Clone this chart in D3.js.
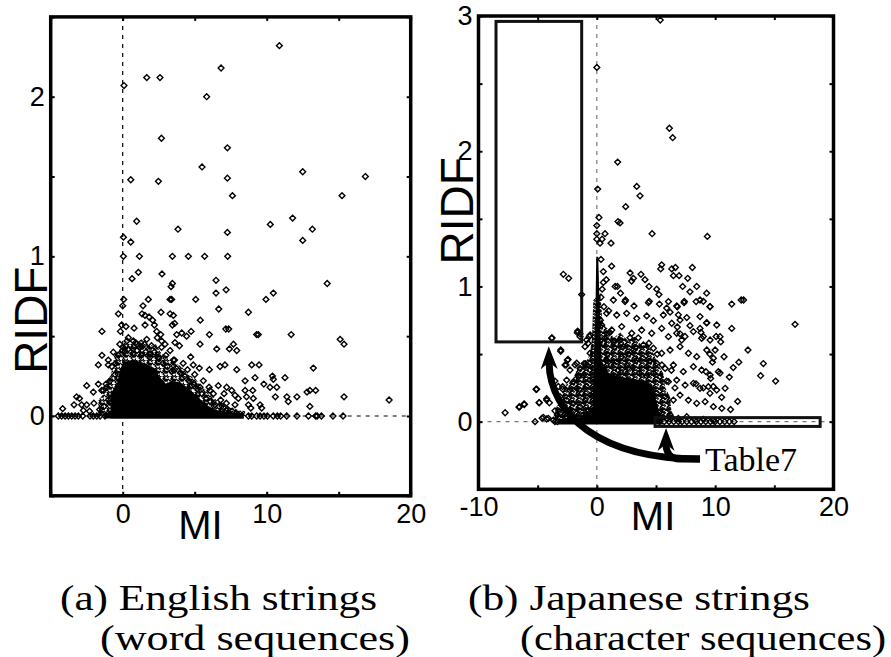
<!DOCTYPE html>
<html>
<head>
<meta charset="utf-8">
<script src="https://cdn.jsdelivr.net/npm/d3@7"></script>
<style>
  body { margin: 0; background: #fff; }
  svg { display: block; }
</style>
</head>
<body>
<svg width="891" height="657"></svg>
<script>
// ---- data (MI, RIDF) ----
const xTicksA = [-5, 0, 5, 10, 15, 20];
const xLabelsA = [0, 10, 20];
const yTicksA = [-0.5, 0, 0.5, 1, 1.5, 2, 2.5];
const yLabelsA = [0, 1, 2];

const xTicksB = [-10, -5, 0, 5, 10, 15, 20];
const xLabelsB = [-10, 0, 10, 20];
const yTicksB = [-0.5, 0, 0.5, 1, 1.5, 2, 2.5, 3];
const yLabelsB = [0, 1, 2, 3];

// saturated (solid black) areas where markers overlap completely
const coreA = [[-0.85,-0.016],[-0.85,0.14],[-0.4,0.2],[-0.15,0.3],[0.1,0.34],[0.8,0.35],[1.5,0.33],[2.2,0.3],[2.6,0.24],[3.0,0.2],[3.4,0.22],[4.0,0.21],[4.6,0.17],[5.2,0.12],[5.8,0.07],[6.4,0.04],[7.0,0.025],[8.4,0.018],[8.4,-0.016]];
const bandA = [[-1.3,-0.016],[-1.3,0.018],[8.4,0.018],[8.4,-0.016]];
// crowded but not saturated areas (drawn as a marker texture)
const denseA = [[-1.7,0],[-1.7,0.1],[-1.3,0.14],[-1.1,0.22],[-0.8,0.26],[-0.6,0.38],[-0.2,0.42],[0.2,0.47],[0.8,0.45],[1.3,0.48],[1.8,0.44],[2.3,0.45],[2.7,0.39],[3.2,0.37],[3.6,0.33],[4.1,0.31],[4.5,0.26],[5.0,0.24],[5.5,0.18],[6.0,0.15],[6.5,0.1],[7.0,0.08],[7.5,0.05],[8.5,0.03],[8.5,0]];

const coreB = [[-3.3,-0.02],[-3.3,0.02],[-1.5,0.03],[-0.35,0.1],[-0.3,0.35],[-0.12,0.8],[-0.05,1.22],[0.12,1.22],[0.25,0.8],[0.4,0.45],[1.0,0.36],[2.0,0.33],[3.0,0.32],[4.0,0.3],[4.7,0.27],[5.0,0.16],[5.3,0.06],[5.6,0.02],[5.6,-0.02]];
const denseB = [[-3.6,0],[-3.5,0.1],[-3.0,0.16],[-2.7,0.27],[-2.1,0.3],[-1.6,0.4],[-1.0,0.42],[-0.6,0.5],[-0.4,0.62],[-0.3,0.9],[0.3,0.95],[0.5,0.72],[1.0,0.68],[1.4,0.62],[2.0,0.66],[2.6,0.6],[3.2,0.63],[3.8,0.56],[4.3,0.58],[4.8,0.5],[5.2,0.42],[5.6,0.36],[5.8,0.25],[6.2,0.18],[6.3,0.08],[6.6,0.03],[6.6,0]];

const pointsA = [
  [10.88,2.32],[6.83,2.18],[1.67,2.12],[2.59,2.12],[0.09,2.07],[5.83,2.0],[2.69,1.74],[7.27,1.68],[5.51,1.56],[12.5,1.53],[16.85,1.5],[0.56,1.48],[2.48,1.47],[7.27,1.49],[7.62,1.38],[15.23,1.38],[0.97,1.22],[11.8,1.24],[10.25,1.2],[3.84,1.17],[13.17,1.17],[7.27,1.15],[0.05,1.12],[0.56,1.09],[12.5,1.1],
  [0.05,1.0],[1.16,1.0],[3.45,1.0],[4.56,1.0],[5.69,1.0],[7.29,1.0],
  [1.09,0.9],[0.65,0.86],[2.73,0.89],[3.45,0.83],[3.36,0.81],[6.48,0.85],[7.18,0.79],[6.48,0.77],[14.2,0.83],[10.46,0.77],[9.95,0.73],[5.07,0.73],[3.29,0.73],[3.4,0.73],[1.78,0.73],[0.07,0.73],[0,0.69],[1.41,0.69],[6.67,0.67],[8.73,0.65],[-0.3,0.64],[1.34,0.64],[1.55,0.63],[1.83,0.62],[2.66,0.65],[3.29,0.64],[3.52,0.63],[5.39,0.6],
  [-1.44,0.53],[-0.07,0.57],[0.23,0.56],[0.79,0.55],[1.55,0.57],[2.08,0.6],[2.2,0.57],[3.45,0.57],[3.61,0.58],[4.75,0.53],[6.02,0.51],[7.16,0.545],[7.36,0.545],[9.3,0.51],[9.42,0.51],[11.7,0.51],[15.1,0.48],[15.37,0.45],[2.36,0.53],[2.64,0.51],[4.1,0.52],[3.75,0.51],[5.37,0.45],[-0.16,0.53],[0.39,0.49],[0.74,0.47],[0.97,0.45],[1.2,0.43],[1.67,0.48],[2.4,0.49],[2.7,0.47],[2.94,0.45],[3.29,0.41],[3.63,0.46],[3.94,0.44],[4.44,0.5],[6.53,0.42],[7.41,0.42],[7.92,0.41],[7.69,0.45],
  [-0.65,0.4],[-1.44,0.38],[0,0.41],[0.02,0.43],[1.9,0.39],[2.48,0.37],[3.52,0.35],[4.72,0.37],[-1.69,0.32],[-1.0,0.32],[8.96,0.32],[9.47,0.32],[13.24,0.3],[4.9,0.32],[5.32,0.3],[6.02,0.29],[6.76,0.31],[7.1,0.32],[7.92,0.29],[8.5,0.22],[9.19,0.24],[9.8,0.2],[10.4,0.25],[10.46,0.23],[11.27,0.24],
  [-2.5,0.19],[-1.69,0.2],[-2.04,0.15],[-1.34,0.16],[-1.11,0.18],[-3.2,0.12],[-3.0,0.11],[-2.85,0.07],[-3.38,0.07],[-2.5,0.07],[-4.17,0.046],[-2.73,0.035],
  [4.8,0.19],[5.37,0.18],[6.06,0.16],[6.64,0.19],[7.04,0.14],[7.22,0.18],[7.57,0.16],[7.8,0.13],[8.03,0.11],[8.5,0.16],[8.6,0.12],[9.03,0.16],[9.07,0.11],[9.54,0.07],[9.65,0.05],[10.23,0.18],[10.7,0.18],[10.6,0.12],[11.4,0.12],[11.5,0.09],[12.1,0.12],[12.8,0.15],[13.0,0.16],[13.4,0.16],[13.0,0.06],[15.37,0.12],[18.5,0.1],[8.73,0.07],[8.9,0.05],
  [-4.47,0],[-4.24,0],[-4.0,0],[-3.77,0],[-3.54,0],[-3.31,0],[-3.08,0],[-2.78,0],[-2.27,0],[-2.04,0],[-1.8,0],[-1.57,0],[-1.23,0],[8.73,0],[8.96,0],[9.3,0],[9.54,0],[9.81,0],[10.05,0],[10.46,0],[10.74,0],[10.97,0],[11.39,0],[12.1,0],[12.9,0],[13.4,0],[13.5,0],[13.8,0],[14.6,0],[15.3,0],
  [-1.0,0.35],[-0.76,0.31],[-0.53,0.26],[-0.88,0.22],[-1.16,0.2],[-1.46,0.16],[-0.3,0.38],[0.1,0.4],[0.4,0.42],[0.7,0.39],[1.0,0.41],[1.3,0.38],[1.6,0.4],[1.9,0.37],[2.2,0.4],[2.5,0.36],[2.8,0.33],[3.1,0.31],[3.4,0.28],[3.7,0.3],[4.0,0.27],[4.3,0.25],[4.6,0.22],[4.9,0.2],[5.2,0.17],[5.5,0.14],[5.8,0.11],[6.1,0.09],[6.4,0.07],[6.7,0.06],[7.0,0.05],[7.3,0.04],[7.6,0.03],[0.3,0.47],[0.9,0.46],[1.5,0.45],[2.0,0.44],[2.7,0.43],[3.0,0.38],[3.6,0.35],[4.2,0.33],[4.5,0.29],[5.0,0.26],[5.6,0.22],[6.0,0.18],[6.3,0.14],[6.8,0.1],[7.2,0.08],[7.8,0.07],[-0.5,0.33],[-0.2,0.45],[-0.6,0.12],[-1.0,0.1],[-1.3,0.06],[-1.6,0.04],[-2.0,0.08],[-2.3,0.03],[-0.4,0.05]
];

const pointsB = [
  [5.36,2.97],[0,2.62],[6.13,2.17],[6.41,2.1],[1.76,1.92],[0.07,1.72],[3.37,1.74],[3.65,1.67],[2.44,1.59],[1.79,1.48],[1.96,1.47],[0.18,1.51],[4.67,1.39],[9.34,1.37],[0,1.45],[0,1.39],[0,1.35],[0.69,1.39],[0.44,1.35],[0.27,1.32],[1.2,1.32],
  [-2.83,1.09],[-2.38,1.06],[-1.28,0.94],[1.25,1.15],[0.55,1.11],[0.55,1.03],[1.55,1.0],[1.74,1.0],[2.42,0.9],[2.81,1.1],[2.94,1.04],[3.09,1.06],[3.73,1.09],[4.07,1.05],[4.41,1.0],[5.06,0.98],[4.43,0.89],[5.25,0.94],[5.48,1.16],[5.4,1.13],[6.33,1.13],[6.47,1.08],[6.64,1.14],[6.95,1.08],[8.07,1.14],[7.68,1.06],[7.25,1.0],[7.87,0.96],[8.44,1.0],[7.39,0.89],[6.8,0.85],[6.89,0.79],[5.9,0.84],[6.19,0.81],[9.28,0.95],[8.72,0.9],[9.0,0.89],[9.56,0.85],[11.4,0.87],[12.2,0.9],[12.4,0.9],[9.28,0.73],[16.75,0.72],
  [7.6,0.77],[7.87,0.71],[6.8,0.7],[7.03,0.65],[7.45,0.63],[8.72,0.69],[9.0,0.63],[8.8,0.66],[10.08,0.63],[10.47,0.59],[12.77,0.53],[10.0,0.53],[10.75,0.48],[9.55,0.5],[9.77,0.44],[14.07,0.43],[13.84,0.34],[15.11,0.3],[11.53,0.4],[12.0,0.44],[10.41,0.36],[11.2,0.33],[9.22,0.37],[9.62,0.32],[10.55,0.18],[11.9,0.15],[11.3,0.09],[9.84,0.26],[9.56,0.21],[8.38,0.28],[9.0,0.25],
  [-7.75,0.066],[-6.57,0.106],[-6.12,0.127],[-5.08,0.24],[-4.88,0.14],[-4.24,0.17],[-4.01,0.14],[-4.63,0.026],[-4.24,0.02],[-5.22,0],[-3.79,0.62],[-3.05,0.52],[-2.6,0.42],[-2.43,0.46],[-1.84,0.42],[-1.08,0.43],[-0.94,0.43],[-1.62,0.67],[-1.42,0.65],[-0.63,0.63],[-0.74,0.58],[-3.54,0.3],[-3.25,0.26],[-2.88,0.24],[-3.54,0.08],[-3.34,0.05],[-3.54,0],
  [-3.05,0.53],[-2.49,0.456],[-2.69,0.419],[-2.27,0.382],[-1.7,0.432],[-1.42,0.394],[-1.14,0.345],[-0.86,0.419],[-0.57,0.382],[-1.56,0.333],[-1.98,0.296],[-2.55,0.308],[-2.89,0.259],[-2.27,0.234],[-1.7,0.247],[-1.28,0.21],[-0.86,0.259],[-0.57,0.308],[-3.11,0.185],[-2.55,0.16],[-1.98,0.136],[-1.42,0.111],[-1.0,0.16],[-0.57,0.197],[-2.83,0.111],[-2.27,0.087],[-1.7,0.062],[-1.14,0.05],[-0.72,0.087],[-3.11,0.062],[-2.55,0.037],[-1.84,0.012],[-1.28,0.012],[-0.72,0.037],[-1.65,0.658],[-1.42,0.629],[-0.86,0.604],[-0.57,0.641],[-1.0,0.555],[-0.57,0.506],[-6.55,0.111],[-6.15,0.131],[-5.14,0.24],[-4.86,0.141],[-4.24,0.16],[-4.52,0.032],[-4.1,0.025],[-3.67,0.012],[-3.34,0],[-3.81,0.617],
  [2.38,0.888],[3.14,0.856],[4.36,0.88],[5.29,0.87],[6.05,0.888],[6.75,0.856],[7.37,0.88],[8.39,0.888],[9.57,0.851],[0.83,0.801],[1.68,0.789],[2.52,0.801],[3.37,0.764],[4.22,0.782],[4.78,0.747],[5.62,0.789],[6.33,0.728],[7.03,0.752],[8.72,0.777],[9.29,0.732],[10.13,0.715],[11.4,0.69],
  [0.41,0.715],[1.26,0.678],[2.1,0.703],[2.95,0.654],[3.79,0.678],[4.64,0.654],[5.48,0.69],[6.05,0.629],[6.75,0.654],[7.17,0.604],[8.16,0.666],[8.86,0.617],[9.57,0.604],[10.41,0.629],
  [0.55,0.58],[1.4,0.592],[2.24,0.555],[3.09,0.53],[3.93,0.567],[4.78,0.543],[5.48,0.506],[6.19,0.53],[7.03,0.555],[7.74,0.506],[8.44,0.481],[9.29,0.53],[9.85,0.469],
  [0.83,0.456],[1.68,0.444],[2.52,0.419],[3.37,0.456],[4.22,0.407],[5.06,0.432],[5.77,0.394],[6.47,0.419],[7.31,0.37],[8.16,0.407],[8.86,0.382],[9.57,0.345],[10.27,0.37],
  [5.34,0.333],[6.05,0.296],[6.75,0.308],[7.46,0.271],[8.16,0.284],[8.72,0.247],[9.43,0.259],[10.13,0.234],[10.84,0.247],
  [5.06,0.21],[5.77,0.185],[6.47,0.16],[7.03,0.197],[7.74,0.16],[8.44,0.136],[9.15,0.148],[9.85,0.111],[10.56,0.099],
  [5.48,0.062],[6.19,0.05],[6.89,0.025],[7.6,0.037],[8.3,0.012],[9.0,0.017],[9.85,0.007],
  [5.3,0],[5.7,0],[6.1,0],[6.5,0],[6.9,0],[7.2,0],[7.6,0],[8.0,0],[8.4,0],[8.8,0],[9.2,0],[9.6,0],[10.0,0],[10.4,0],[10.8,0],[11.2,0],[11.6,0],
  [0.5,0.36],[0.9,0.5],[1.2,0.42],[1.5,0.55],[1.8,0.38],[2.1,0.48],[2.4,0.37],[2.7,0.5],[3.0,0.4],[3.3,0.55],[3.6,0.36],[3.9,0.47],[4.2,0.34],[4.5,0.45],[4.8,0.36],[0.7,0.62],[1.1,0.66],[1.9,0.6],[2.8,0.62],[3.5,0.62],[4.4,0.58],[5.1,0.5],[5.5,0.42],[5.9,0.3],[6.3,0.38],[6.6,0.25],[0.35,0.92],[0.45,0.98],[0.3,0.75],[0.6,0.85],[1.0,0.82],[1.4,0.9],[2.0,0.95],[0.8,1.05],[0.35,1.2]
];

// annotation boxes in panel (b), [xMin, xMax, yMin, yMax]
const boxesB = [[-8.52, -1.28, 0.59, 2.96], [4.92, 18.87, -0.035, 0.03]];
// arrow paths in panel (b): start, then cubic control points, end
const arrowBig = [[8.72,-0.276],[0.27,-0.276],[-3.96,0.05],[-4.04,0.44]];
const arrowSmall = [[8.72,-0.276],[7.03,-0.276],[6.19,-0.276],[5.85,-0.224],[5.85,-0.165]];
const tableLabel = { text: "Table7", x: 9.15, y: -0.362 };

const captionA = ["(a) English strings", "(word sequences)"];
const captionB = ["(b) Japanese strings", "(character sequences)"];

// ---- drawing ----
const svg = d3.select("svg");
const diamond = {
  draw(ctx, size) {
    const r = Math.sqrt(size) / 2;
    ctx.moveTo(0, -r); ctx.lineTo(r, 0); ctx.lineTo(0, r); ctx.lineTo(-r, 0); ctx.closePath();
  }
};

const defs = svg.append("defs");
defs.append("marker")
  .attr("id", "head")
  .attr("markerUnits", "userSpaceOnUse")
  .attr("viewBox", "0 -9 24 18")
  .attr("markerWidth", 24).attr("markerHeight", 18)
  .attr("refX", 7).attr("refY", 0)
  .attr("orient", "auto")
  .append("path")
  .attr("d", "M0,-8.5L23,0L0,8.5L7,0Z")
  .attr("fill", "#000");

// marker textures for crowded areas (loose for (a), tight for (b))
function crowdPattern(id, w, cells) {
  const pat = defs.append("pattern")
    .attr("id", id)
    .attr("patternUnits", "userSpaceOnUse")
    .attr("width", w).attr("height", w);
  cells.forEach(c => {
    pat.append("path")
      .attr("transform", `translate(${c[0]},${c[1]})`)
      .attr("d", d3.symbol(diamond, 34))
      .attr("fill", "none").attr("stroke", "#000").attr("stroke-width", 1.3);
  });
}
crowdPattern("crowdA", 8, [[2, 2], [6, 6], [6, 2.5]]);
crowdPattern("crowdB", 7, [[1.5, 1.5], [5, 4.5], [5, 1.2], [2, 5.5]]);

function drawPanel(o) {
  const x = d3.scaleLinear().domain(o.xDomain).range(o.xRange);
  const y = d3.scaleLinear().domain(o.yDomain).range(o.yRange);
  const [x0, x1] = o.xRange, [y0, y1] = o.yRange;
  const g = svg.append("g");

  // dashed zero lines
  g.append("line")
    .attr("x1", x(0)).attr("x2", x(0)).attr("y1", y1).attr("y2", y0)
    .attr("stroke", o.dashColor).attr("stroke-width", 1.2).attr("stroke-dasharray", "4,5");
  g.append("line")
    .attr("x1", x0).attr("x2", x1).attr("y1", y(0)).attr("y2", y(0))
    .attr("stroke", o.dashColor).attr("stroke-width", 1.2).attr("stroke-dasharray", "4,5");

  const line = d3.line().x(d => x(d[0])).y(d => y(d[1]));
  g.append("path").attr("d", line(o.dense) + "Z").attr("fill", `url(#${o.crowd})`);
  g.selectAll(".blob").data(o.blobs).join("path")
    .attr("class", "blob")
    .attr("d", d => line(d) + "Z")
    .attr("fill", "#000");

  g.selectAll(".pt").data(o.points).join("path")
    .attr("class", "pt")
    .attr("transform", d => `translate(${x(d[0])},${y(d[1])})`)
    .attr("d", d3.symbol(diamond, 34))
    .attr("fill", "none")
    .attr("stroke", "#000")
    .attr("stroke-width", 1.4);

  // boxes
  g.selectAll(".box").data(o.boxes || []).join("rect")
    .attr("class", "box")
    .attr("x", d => x(d[0])).attr("width", d => x(d[1]) - x(d[0]))
    .attr("y", d => y(d[3])).attr("height", d => y(d[2]) - y(d[3]))
    .attr("fill", "none").attr("stroke", "#111").attr("stroke-width", 3);

  // frame
  g.append("rect")
    .attr("x", x0).attr("y", y1).attr("width", x1 - x0).attr("height", y0 - y1)
    .attr("fill", "none").attr("stroke", "#000").attr("stroke-width", 3.5);

  const fmt = labels => d => labels.includes(d) ? d : "";
  const style = sel => {
    sel.select(".domain").remove();
    sel.selectAll(".tick line").attr("stroke", "#000").attr("stroke-width", 2);
    sel.selectAll("text").attr("font-family", "'Liberation Sans', Arial, sans-serif")
      .attr("font-size", 27).attr("fill", "#000");
  };
  g.append("g").attr("transform", `translate(0,${y0})`)
    .call(d3.axisBottom(x).tickValues(o.xTicks).tickSizeInner(-4).tickSizeOuter(0).tickPadding(8).tickFormat(fmt(o.xLabels)))
    .call(style);
  g.append("g").attr("transform", `translate(0,${y1})`)
    .call(d3.axisTop(x).tickValues(o.xTicks).tickSizeInner(-4).tickSizeOuter(0).tickFormat(""))
    .call(style);
  g.append("g").attr("transform", `translate(${x0},0)`)
    .call(d3.axisLeft(y).tickValues(o.yTicks).tickSizeInner(-4).tickSizeOuter(0).tickPadding(6).tickFormat(fmt(o.yLabels)))
    .call(style);
  g.append("g").attr("transform", `translate(${x1},0)`)
    .call(d3.axisRight(y).tickValues(o.yTicks).tickSizeInner(-4).tickSizeOuter(0).tickFormat(""))
    .call(style);

  // axis titles
  g.append("text")
    .attr("x", x(o.miAt)).attr("y", y0 + o.miDy)
    .attr("text-anchor", "middle")
    .attr("font-family", "'Liberation Sans', Arial, sans-serif").attr("font-size", 40)
    .text("MI");
  g.append("text")
    .attr("transform", `translate(${o.ridfX},${y(o.ridfAt)}) rotate(-90)`)
    .attr("text-anchor", "middle")
    .attr("font-family", "'Liberation Sans', Arial, sans-serif").attr("font-size", 46)
    .text("RIDF");

  // captions
  o.caption.forEach((c, i) => {
    g.append("text")
      .attr("x", o.capX[i]).attr("y", o.capY[i])
      .attr("font-family", "'Liberation Serif', 'Times New Roman', serif").attr("font-size", 36)
      .attr("textLength", o.capW[i]).attr("lengthAdjust", "spacingAndGlyphs")
      .text(c);
  });
  return { g, x, y };
}

drawPanel({
  xDomain: [-5, 20], xRange: [50.7, 410.7],
  yDomain: [-0.5, 2.5], yRange: [495.8, 16.9],
  xTicks: xTicksA, xLabels: xLabelsA, yTicks: yTicksA, yLabels: yLabelsA,
  dashColor: "#000",
  dense: denseA, crowd: "crowdA", blobs: [coreA, bandA], points: pointsA,
  miAt: 5.4, miDy: 43, ridfX: 47, ridfAt: 0.6,
  caption: captionA, capX: [60, 100], capY: [610, 650], capW: [317, 310]
});

const pb = drawPanel({
  xDomain: [-10, 20], xRange: [478.5, 833.5],
  yDomain: [-0.5, 3], yRange: [489.3, 16],
  xTicks: xTicksB, xLabels: xLabelsB, yTicks: yTicksB, yLabels: yLabelsB,
  dashColor: "#777",
  dense: denseB, crowd: "crowdB", blobs: [coreB], points: pointsB, boxes: boxesB,
  miAt: 4.75, miDy: 41, ridfX: 473, ridfAt: 1.56,
  caption: captionB, capX: [468, 520], capY: [610, 650], capW: [342, 366]
});

// arrows + label in panel (b)
const P = d => [pb.x(d[0]), pb.y(d[1])];
const big = d3.path();
big.moveTo(...P(arrowBig[0]));
big.bezierCurveTo(...P(arrowBig[1]), ...P(arrowBig[2]), ...P(arrowBig[3]));
const small = d3.path();
small.moveTo(...P(arrowSmall[0]));
small.lineTo(...P(arrowSmall[1]));
small.bezierCurveTo(...P(arrowSmall[2]), ...P(arrowSmall[3]), ...P(arrowSmall[4]));
[big, small].forEach(p => {
  pb.g.append("path")
    .attr("d", p.toString())
    .attr("fill", "none").attr("stroke", "#000").attr("stroke-width", 7)
    .attr("marker-end", "url(#head)");
});
pb.g.append("text")
  .attr("x", pb.x(tableLabel.x)).attr("y", pb.y(tableLabel.y))
  .attr("font-family", "'Liberation Serif', 'Times New Roman', serif").attr("font-size", 34)
  .text(tableLabel.text);
</script>
</body>
</html>
